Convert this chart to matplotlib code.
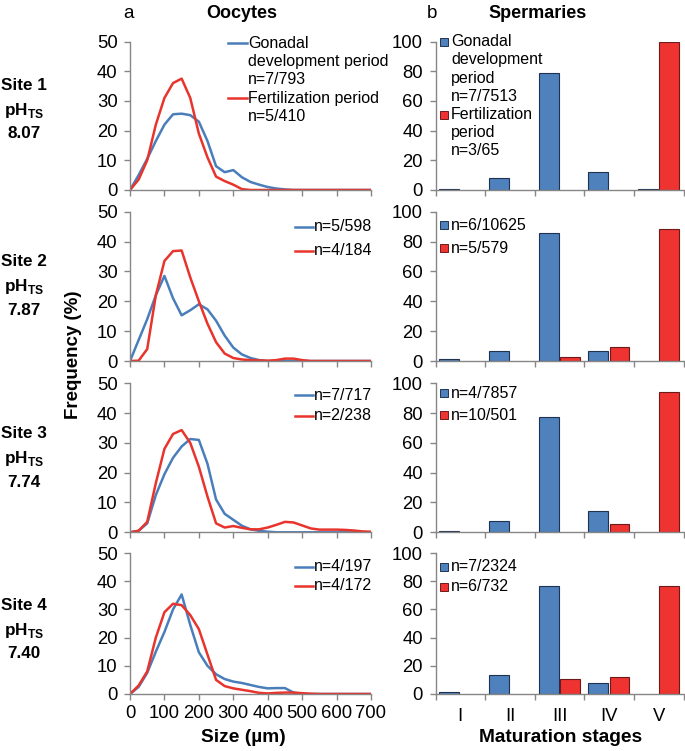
import matplotlib
matplotlib.use("Agg")
import matplotlib.pyplot as plt
from matplotlib.lines import Line2D
import numpy as np

plt.rcParams['font.family'] = ['Liberation Sans', 'DejaVu Sans']
plt.rcParams['mathtext.fontset'] = 'custom'
plt.rcParams['mathtext.rm'] = 'Liberation Sans'
plt.rcParams['mathtext.bf'] = 'Liberation Sans:bold'

# ---- data: oocyte size distributions (a) ----
size_um = np.arange(0, 701, 25)

oocyte_gonadal = [
    [0, 5, 10.5, 16.5, 22, 25.5, 25.7, 25.2, 23, 16.5, 8.0, 6.0, 6.7, 4.3, 2.7, 1.8, 1.0, 0.5, 0.2,
     0, 0, 0, 0, 0, 0, 0, 0, 0, 0],
    [0, 7, 14, 22, 28.5, 21, 15.3, 17, 19, 17.3, 13.5, 8.5, 4.5, 2.2, 1.0, 0.3,
     0, 0, 0, 0, 0, 0, 0, 0, 0, 0, 0, 0, 0],
    [0, 0.5, 3, 12.5, 19.5, 25, 28.8, 31.3, 31, 23, 11, 6.2, 4.2, 2.2, 1.0, 0.5, 0.2,
     0, 0, 0, 0, 0, 0, 0, 0, 0, 0, 0, 0],
    [0, 2.5, 7.5, 15, 22, 30, 35.3, 24.5, 14.8, 10, 7, 5.3, 4.4, 3.9, 3.2, 2.5, 2.0, 2.1, 2.1, 0.5,
     0, 0, 0, 0, 0, 0, 0, 0, 0],
]
oocyte_fert = [
    [0, 3.5, 10, 22, 31, 36, 37.5, 31, 19, 11, 4.5, 3, 1.8, 0.3,
     0, 0, 0, 0, 0, 0, 0, 0, 0, 0, 0, 0, 0, 0, 0],
    [0, 0.1, 4, 22, 33.5, 36.8, 37, 28, 20, 12.5, 6.3, 2.5, 1, 0.5, 0.3, 0.2, 0.1, 0.3, 0.8, 0.8, 0.3,
     0, 0, 0, 0, 0, 0, 0, 0],
    [0, 0.5, 3.5, 16.5, 28, 33, 34.3, 30, 22, 12, 3, 1.6, 2.1, 1.5, 1.0, 1.0, 1.6, 2.5, 3.5, 3.3,
     2.3, 1.3, 0.9, 0.9, 0.9, 0.8, 0.6, 0.3, 0.2],
    [0, 3, 8, 20, 29, 32, 31.5, 28, 23, 14, 5, 2.8, 2, 1.5, 1, 0.4, 0.2, 0.4, 0.5, 0.5, 0.3, 0.1,
     0, 0, 0, 0, 0, 0, 0],
]
oocyte_n_gonadal = ["n=7/793", "n=5/598", "n=7/717", "n=4/197"]
oocyte_n_fert = ["n=5/410", "n=4/184", "n=2/238", "n=4/172"]

# ---- data: spermary maturation stages (b) ----
stages = ["I", "II", "III", "IV", "V"]
sperm_gonadal = [
    [1.0, 7.8, 79.0, 11.8, 0.6],
    [1.1, 6.7, 85.5, 6.7, 0],
    [1.1, 7.6, 77.1, 14.0, 0],
    [1.4, 13.4, 76.7, 8.0, 0],
]
sperm_fert = [
    [0, 0, 0, 0, 100],
    [0, 0, 2.7, 9.4, 88.2],
    [0, 0, 0, 5.3, 94.4],
    [0, 0, 10.8, 12.0, 76.7],
]
sperm_n_gonadal = ["n=7/7513", "n=6/10625", "n=4/7857", "n=7/2324"]
sperm_n_fert = ["n=3/65", "n=5/579", "n=10/501", "n=6/732"]

sites = ["Site 1", "Site 2", "Site 3", "Site 4"]
ph_values = ["8.07", "7.87", "7.74", "7.40"]

# ---- style ----
BLUE = '#4A7EBB'
RED = '#E8342C'
BLUE_BAR = '#4F81BD'
RED_BAR = '#EE3330'
BLUE_EDGE = '#1F3250'
RED_EDGE = '#6E1A1A'
AXIS_GRAY = '#868686'
TICK_FS = 13.3

W, H = 685, 751
fig = plt.figure(figsize=(6.85, 7.51), dpi=100)


def fx(px):
    return px / W


def fy(py):
    return 1 - py / H


def style_axes(ax):
    for s in ['top', 'right']:
        ax.spines[s].set_visible(False)
    for s in ['left', 'bottom']:
        ax.spines[s].set_color(AXIS_GRAY)
        ax.spines[s].set_linewidth(1.0)
    ax.tick_params(direction='out', length=4, width=1.0, color=AXIS_GRAY,
                   labelsize=TICK_FS, pad=5)


def text_lines(x, y0, lines, step=18.3, **kw):
    for k, line in enumerate(lines):
        fig.text(fx(x), fy(y0 + k * step), line, va='center', ha='left', fontsize=11.5, **kw)


def line_handle(x0, x1, y, color):
    fig.add_artist(Line2D([fx(x0), fx(x1)], [fy(y), fy(y)], color=color, lw=1.8,
                          transform=fig.transFigure))


def square_handle(x, y, color, edge):
    fig.add_artist(Line2D([fx(x)], [fy(y)], marker='s', markersize=6, markerfacecolor=color,
                          markeredgecolor=edge, markeredgewidth=0.7, linestyle='none',
                          transform=fig.transFigure))


rows_px = [(41.5, 190), (211.7, 361), (383.3, 532.3), (553, 694)]
left_leg_y = [None, (226.7, 250.5), (395, 416), (566.5, 586)]
right_leg_y = [None, (225, 248.3), (393.3, 415), (566.7, 586.7)]
site_y = [85, 261.7, 433.3, 605]

for i, (top, bot) in enumerate(rows_px):
    last = i == len(rows_px) - 1

    # oocytes
    axL = fig.add_axes([fx(130), fy(bot), (371 - 130) / W, (bot - top) / H])
    style_axes(axL)
    axL.plot(size_um, oocyte_gonadal[i], color=BLUE, lw=1.8, solid_joinstyle='round')
    axL.plot(size_um, oocyte_fert[i], color=RED, lw=1.8, solid_joinstyle='round')
    axL.set_xlim(0, 700)
    axL.set_ylim(0, 50)
    axL.set_xticks(np.arange(0, 701, 100))
    axL.set_yticks(np.arange(0, 51, 10))
    axL.tick_params(axis='x', labelbottom=last, pad=4)

    # spermaries
    axR = fig.add_axes([fx(435.5), fy(bot), (683.5 - 435.5) / W, (bot - top) / H])
    style_axes(axR)
    pos = np.arange(1, len(stages) + 1)
    g = np.array(sperm_gonadal[i], dtype=float)
    f = np.array(sperm_fert[i], dtype=float)
    axR.bar(pos[g > 0] - 0.22, g[g > 0], width=0.40, color=BLUE_BAR,
            edgecolor=BLUE_EDGE, linewidth=0.8)
    axR.bar(pos[f > 0] + 0.21, f[f > 0], width=0.40, color=RED_BAR,
            edgecolor=RED_EDGE, linewidth=0.8)
    axR.set_xlim(0.5, 5.5)
    axR.set_ylim(0, 100)
    axR.set_yticks(np.arange(0, 101, 20))
    axR.set_xticks(np.arange(0.5, 5.6, 1.0))
    axR.set_xticklabels([])
    axR.set_xticks(pos, minor=True)
    axR.set_xticklabels(stages if last else [], minor=True)
    axR.tick_params(axis='x', which='minor', length=0, labelsize=TICK_FS, pad=10)

    # site labels
    fig.text(fx(24), fy(site_y[i]), sites[i], ha='center', va='center',
             fontsize=12.3, fontweight='bold')
    fig.text(fx(24), fy(site_y[i] + 25), r'pH$_{\mathbf{TS}}$', ha='center', va='center',
             fontsize=12.3, fontweight='bold')
    fig.text(fx(24), fy(site_y[i] + 49), ph_values[i], ha='center', va='center',
             fontsize=12.3, fontweight='bold')

    # legends
    if i == 0:
        line_handle(228, 247, 43.3, BLUE)
        text_lines(248, 43.3, ["Gonadal", "development period", oocyte_n_gonadal[i]])
        line_handle(228, 247, 98.3, RED)
        text_lines(248, 98.3, ["Fertilization period", oocyte_n_fert[i]])
        square_handle(444, 41.7, BLUE_BAR, BLUE_EDGE)
        text_lines(451, 41.7, ["Gonadal", "development", "period", sperm_n_gonadal[i]], step=18.2)
        square_handle(444, 114.5, RED_BAR, RED_EDGE)
        text_lines(451, 114.5, ["Fertilization", "period", sperm_n_fert[i]], step=18.2)
    else:
        y1, y2 = left_leg_y[i]
        line_handle(295, 313, y1, BLUE)
        text_lines(314, y1, [oocyte_n_gonadal[i]])
        line_handle(295, 313, y2, RED)
        text_lines(314, y2, [oocyte_n_fert[i]])
        y1, y2 = right_leg_y[i]
        square_handle(444, y1, BLUE_BAR, BLUE_EDGE)
        text_lines(451, y1, [sperm_n_gonadal[i]])
        square_handle(444, y2, RED_BAR, RED_EDGE)
        text_lines(451, y2, [sperm_n_fert[i]])

# panel titles
fig.text(fx(129), fy(13), "a", ha='center', va='center', fontsize=13.5)
fig.text(fx(242), fy(13), "Oocytes", ha='center', va='center', fontsize=13, fontweight='bold')
fig.text(fx(432), fy(13), "b", ha='center', va='center', fontsize=13.5)
fig.text(fx(538), fy(13), "Spermaries", ha='center', va='center', fontsize=13, fontweight='bold')

# axis labels
fig.text(fx(243), fy(737), "Size (µm)", ha='center', va='center', fontsize=13.8, fontweight='bold')
fig.text(fx(561), fy(737), "Maturation stages", ha='center', va='center', fontsize=13.8,
         fontweight='bold')
fig.text(fx(73), fy(355), "Frequency (%)", ha='center', va='center', rotation=90,
         fontsize=13.5, fontweight='bold')

fig.savefig("out.png", dpi=100)
